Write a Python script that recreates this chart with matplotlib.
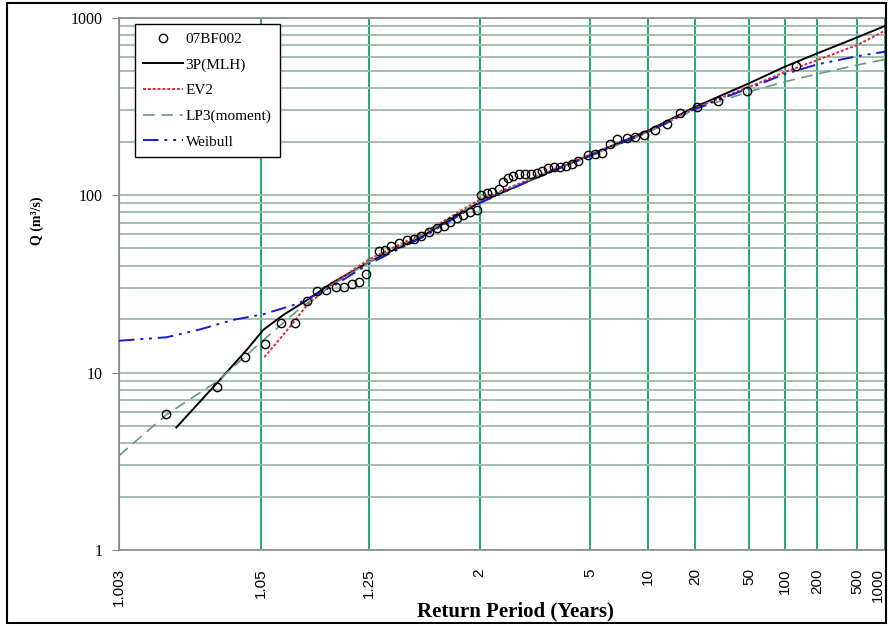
import math
import numpy as np
import matplotlib
matplotlib.use('Agg')
import matplotlib.pyplot as plt
from matplotlib.ticker import FixedLocator, FuncFormatter, NullLocator, LogLocator
from matplotlib.patches import Rectangle

# observed annual peaks (return period in years, flow in m3/s)
obs_T = [1.0085, 1.023, 1.038, 1.054, 1.070, 1.087, 1.104, 1.121, 1.138, 1.159,
         1.177, 1.198, 1.218, 1.241, 1.285, 1.308, 1.333, 1.371, 1.406, 1.446,
         1.490, 1.538, 1.591, 1.644, 1.697, 1.755, 1.822, 1.890, 1.969, 2.017,
         2.088, 2.163, 2.259, 2.338, 2.422, 2.511, 2.627, 2.753, 2.878, 3.022,
         3.165, 3.336, 3.521, 3.704, 3.922, 4.175, 4.413, 4.892, 5.277, 5.682,
         6.281, 6.775, 7.657, 8.467, 9.58, 11.11, 13.05, 15.8, 20.4, 29.0,
         47.8, 127]
obs_Q = [5.86, 8.32, 12.2, 14.5, 19.0, 19.0, 25.3, 28.8, 29.2, 30.5,
         30.5, 31.5, 32.4, 35.9, 48.4, 49.0, 51.3, 53.7, 55.8, 56.5,
         58.7, 61.9, 65.2, 67.3, 70.9, 74.2, 77.6, 80.7, 82.3, 100,
         103.3, 104.6, 108.1, 119.1, 124.7, 127.9, 130.5, 131.3, 131.3, 133.0,
         137.4, 141.9, 143.8, 144.3, 145.7, 149.6, 155.4, 167.0, 169.5, 173.6,
         193.8, 206.0, 209.5, 211, 217.8, 232.3, 252.8, 291.6, 311.9, 339.7,
         386.9, 533]

# fitted distributions
mlh_T = [1.0105, 1.0231, 1.0394, 1.0522, 1.0722, 1.104, 1.15, 1.25, 1.5, 2, 3, 5, 10, 20, 50, 100, 200, 500, 1000]
mlh_Q = [4.9, 8.7, 13.4, 17.4, 21.1, 25.6, 32.0, 42, 59, 91, 125, 168, 230, 314, 426, 528, 629, 773, 896]

ev2_T = [1.0531, 1.0802, 1.104, 1.15, 1.25, 1.5, 2, 3, 5, 10, 20, 50, 100, 200, 500, 1000]
ev2_Q = [12.2, 18.1, 24.0, 31.5, 43.5, 61, 94, 127, 169, 228, 310, 406, 493, 576, 700, 843]

lp3_T = [1.003, 1.0086, 1.0232, 1.0511, 1.0935, 1.15, 1.25, 1.5, 2, 3, 5, 10, 20, 50, 100, 200, 500, 1000]
lp3_Q = [3.4, 5.8, 8.9, 15.0, 23.0, 31.0, 42, 60, 92, 126, 166, 225, 305, 382, 435, 481, 540, 581]

wei_T = [1.003, 1.0086, 1.0169, 1.0312, 1.0522, 1.089, 1.15, 1.25, 1.5, 2, 3, 5, 10, 20, 50, 100, 200, 500, 1000]
wei_Q = [15.1, 15.8, 17.5, 19.8, 21.3, 24.3, 30.5, 41, 58, 90, 125, 166, 226, 306, 400, 480, 545, 605, 642]

x_ticks = [1.003, 1.05, 1.25, 2, 5, 10, 20, 50, 100, 200, 500, 1000]
x_tick_labels = ['1.003', '1.05', '1.25', '2', '5', '10', '20', '50', '100', '200', '500', '1000']

SERIF = ['Liberation Serif', 'DejaVu Serif']
SANS = ['Liberation Sans', 'DejaVu Sans']

# normal probability scale for return period
_A = [-3.969683028665376e+01, 2.209460984245205e+02, -2.759285104469687e+02,
      1.383577518672690e+02, -3.066479806614716e+01, 2.506628277459239e+00]
_B = [-5.447609879822406e+01, 1.615858368580409e+02, -1.556989798598866e+02,
      6.680131188771972e+01, -1.328068155288572e+01]
_C = [-7.784894002430293e-03, -3.223964580411365e-01, -2.400758277161838e+00,
      -2.549671492555685e+00, 4.374584120685505e+00, 2.938163982698783e+00]
_D = [7.784695709041462e-03, 3.224671290700398e-01, 2.445134137142996e+00,
      3.754408661907416e+00]


def _tail(q):
    num = ((((_C[0]*q + _C[1])*q + _C[2])*q + _C[3])*q + _C[4])*q + _C[5]
    den = (((_D[0]*q + _D[1])*q + _D[2])*q + _D[3])*q + 1
    return num / den


def _ppf(p):
    p = np.asarray(p, dtype=float)
    shape = p.shape
    p = np.clip(np.atleast_1d(p).ravel(), 1e-12, 1 - 1e-12)
    out = np.full_like(p, np.nan)
    lo = p < 0.02425
    hi = p > 1 - 0.02425
    mid = ~lo & ~hi
    out[lo] = _tail(np.sqrt(-2 * np.log(p[lo])))
    out[hi] = -_tail(np.sqrt(-2 * np.log(1 - p[hi])))
    q = p[mid] - 0.5
    r = q * q
    num = (((((_A[0]*r + _A[1])*r + _A[2])*r + _A[3])*r + _A[4])*r + _A[5]) * q
    den = ((((_B[0]*r + _B[1])*r + _B[2])*r + _B[3])*r + _B[4])*r + 1
    out[mid] = num / den
    return out.reshape(shape)


_erf = np.vectorize(math.erf)


def t_to_z(t):
    t = np.asarray(t, dtype=float)
    with np.errstate(divide='ignore', invalid='ignore'):
        p = 1 - 1 / t
    return _ppf(p)


def z_to_t(z):
    z = np.asarray(z, dtype=float)
    phi = 0.5 * (1 + _erf(z / np.sqrt(2)))
    with np.errstate(divide='ignore', invalid='ignore'):
        return 1 / (1 - phi)


fig = plt.figure(figsize=(8.88, 6.26), dpi=100)
ax = fig.add_axes([0.134, 0.1214, 0.8626, 0.8506])
ax.set_xscale('function', functions=(t_to_z, z_to_t))
ax.set_yscale('log')

ax.plot(obs_T, obs_Q, 'o', mfc='none', mec='black', ms=6, mew=1.0, label='07BF002', zorder=5)
ax.plot(mlh_T, mlh_Q, color='black', lw=1.4, label='3P(MLH)', zorder=4)
ax.plot(ev2_T, ev2_Q, color='#e8243c', lw=1.4, ls=(0, (1.5, 1)), label='EV2', zorder=4)
ax.plot(lp3_T, lp3_Q, color='#629c7c', lw=1.2, ls=(0, (7, 4)), label='LP3(moment)', zorder=4)
ax.plot(wei_T, wei_Q, color='#1a1ad0', lw=1.4, ls=(0, (8, 3, 1.5, 3, 1.5, 3)), label='Weibull', zorder=4)

ax.set_xlim(1.003, 1000)
ax.set_ylim(1, 1000)

ax.xaxis.set_major_locator(FixedLocator(x_ticks))
ax.xaxis.set_major_formatter(FuncFormatter(lambda v, pos: x_tick_labels[pos] if pos is not None and pos < len(x_tick_labels) else ''))
ax.xaxis.set_minor_locator(NullLocator())
ax.yaxis.set_major_locator(LogLocator(base=10))
ax.yaxis.set_minor_locator(LogLocator(base=10, subs=np.arange(2, 10)))
ax.yaxis.set_major_formatter(FuncFormatter(lambda v, pos: '%g' % v))

ax.grid(axis='x', which='major', color='#2aa878', lw=1.5)
ax.grid(axis='y', which='both', color='#9cbaa8', lw=1.3)
ax.set_axisbelow(True)

ax.tick_params(axis='x', which='both', length=0, pad=13, labelrotation=90, labelsize=11)
ax.tick_params(axis='y', which='major', length=5, pad=7, color='#808080', labelsize=11.5)
ax.tick_params(axis='y', which='minor', length=0)

fig.canvas.draw()
xlabels = ax.get_xticklabels()
for lab in xlabels:
    lab.set_family(SANS)
# keep the last label inside the figure
xlabels[-1].set_horizontalalignment('right')
for lab in ax.get_yticklabels():
    lab.set_family(SERIF)

for side in ['top', 'bottom', 'right', 'left']:
    ax.spines[side].set_color('#8a8a8a')
    ax.spines[side].set_linewidth(1.2)
ax.spines['right'].set_visible(False)

ax.set_xlabel('Return Period (Years)', family=SERIF, fontweight='bold', fontsize=15)
ax.xaxis.set_label_coords(0.518, -0.096)
ax.set_ylabel('Q (m³/s)', family=SERIF, fontweight='bold', fontsize=10)
ax.yaxis.set_label_coords(-0.098, 0.618)

leg = ax.legend(loc='upper left', bbox_to_anchor=(0.021, 0.988), borderaxespad=0, numpoints=1,
                prop={'family': SERIF, 'size': 11}, handlelength=2.6, handletextpad=0.15,
                labelspacing=0.78, borderpad=0.55, fancybox=False, framealpha=1, edgecolor='black')
leg.get_frame().set_linewidth(1.0)

fig.patches.append(Rectangle((0.008, 0.005), 0.99, 0.99, transform=fig.transFigure,
                             fill=False, edgecolor='black', lw=1.5))

fig.savefig('out.png', dpi=100)
